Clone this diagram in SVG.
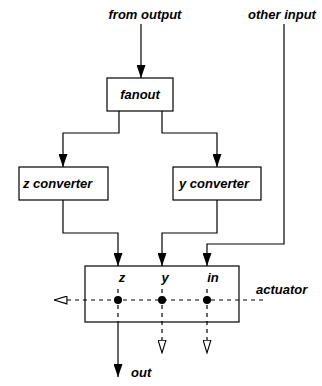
<svg xmlns="http://www.w3.org/2000/svg" width="322" height="386" viewBox="0 0 322 386">
  <style>
    .box { fill: #fff; stroke: #000; stroke-width: 1.2; }
    .wire { fill: none; stroke: #000; stroke-width: 1.2; }
    .dash { fill: none; stroke: #000; stroke-width: 1.2; stroke-dasharray: 4 4; }
    .lbl { font-family: "Liberation Sans", Arial, sans-serif; font-weight: bold; font-style: italic; font-size: 13px; fill: #000; }
    .mid { text-anchor: middle; }
  </style>
  <defs>
    <marker id="solid" viewBox="0 0 13 9" refX="13" refY="4.5" markerWidth="13" markerHeight="9" markerUnits="userSpaceOnUse" orient="auto">
      <path d="M0,0 L13,4.5 L0,9 Z" fill="#000"/>
    </marker>
    <marker id="open" viewBox="0 0 14 9" refX="13.5" refY="4.5" markerWidth="14" markerHeight="9" markerUnits="userSpaceOnUse" orient="auto">
      <path d="M0.6,0.6 L13.4,4.5 L0.6,8.4 Z" fill="#fff" stroke="#000" stroke-width="1.1"/>
    </marker>
  </defs>

  <!-- external labels -->
  <text class="lbl mid" x="145" y="19">from output</text>
  <text class="lbl mid" x="282" y="19">other input</text>

  <!-- connectors -->
  <g id="connectors">
    <path class="wire" d="M141,24 V78" marker-end="url(#solid)"/>
    <path class="wire" d="M119,111 V133 H63 V167" marker-end="url(#solid)"/>
    <path class="wire" d="M162,111 V133 H217 V167" marker-end="url(#solid)"/>
    <path class="wire" d="M63,200 V233 H118 V266" marker-end="url(#solid)"/>
    <path class="wire" d="M217,200 V233 H162 V266" marker-end="url(#solid)"/>
    <path class="wire" d="M284,24 V244 H207 V266" marker-end="url(#solid)"/>
    <path class="wire" d="M118,322 V377" marker-end="url(#solid)"/>
  </g>

  <g id="fanout">
    <rect class="box" x="107" y="78" width="66" height="33"/>
    <text class="lbl mid" x="140" y="99">fanout</text>
  </g>

  <g id="z-converter">
    <rect class="box" x="19" y="167" width="89" height="33"/>
    <text class="lbl" x="23" y="188">z converter</text>
  </g>

  <g id="y-converter">
    <rect class="box" x="173" y="167" width="88" height="33"/>
    <text class="lbl" x="179" y="188">y converter</text>
  </g>

  <g id="actuator">
    <rect class="box" x="85" y="266" width="154" height="56"/>
    <text class="lbl mid" x="122" y="282">z</text>
    <text class="lbl mid" x="165" y="282">y</text>
    <text class="lbl mid" x="213" y="282">in</text>
    <text class="lbl" x="256" y="294">actuator</text>
    <!-- actuation bus -->
    <path class="dash" d="M263,300 H54" marker-end="url(#open)"/>
    <path class="dash" d="M118,289 V322"/>
    <path class="dash" d="M162,289 V353" marker-end="url(#open)"/>
    <path class="dash" d="M207,289 V353" marker-end="url(#open)"/>
    <circle cx="118" cy="300" r="4" fill="#000"/>
    <circle cx="162" cy="300" r="4" fill="#000"/>
    <circle cx="207" cy="300" r="4" fill="#000"/>
  </g>

  <text class="lbl" x="131" y="377">out</text>
</svg>
